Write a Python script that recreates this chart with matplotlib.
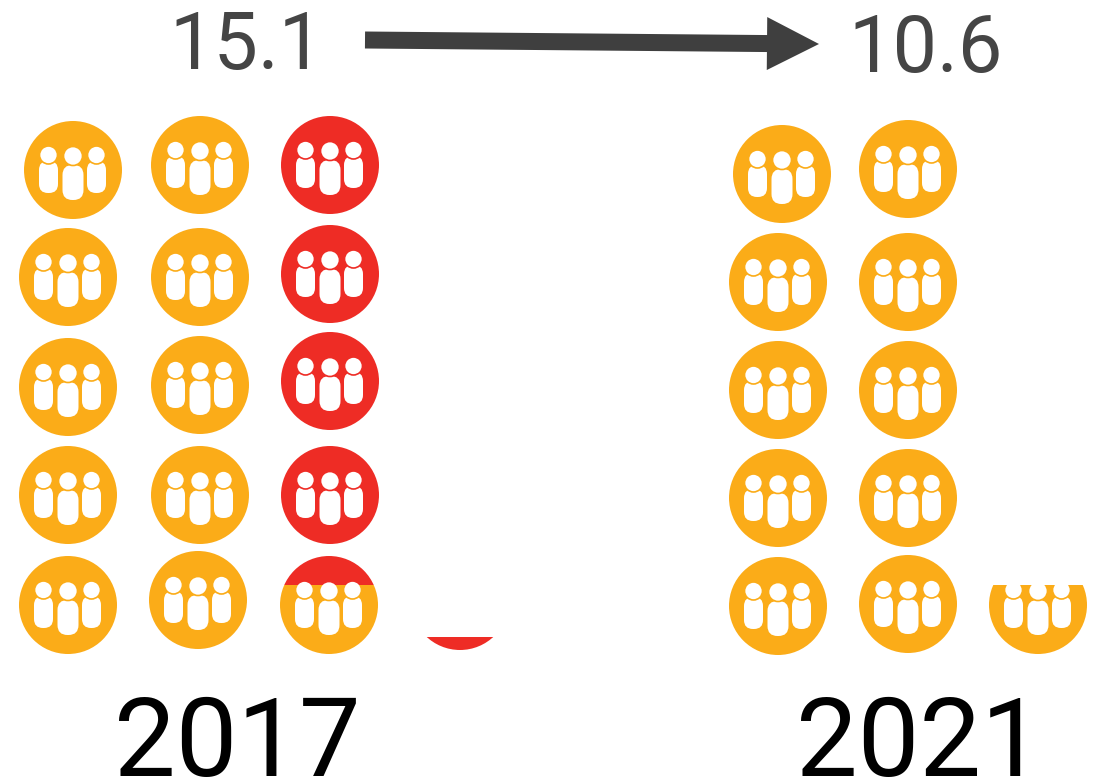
import matplotlib
matplotlib.use('Agg')
import matplotlib.pyplot as plt
from matplotlib.patches import Circle, FancyBboxPatch, FancyArrow, Rectangle

plt.rcParams['font.family'] = ['Roboto', 'DejaVu Sans']

YELLOW = '#fbac18'
RED = '#ee2c25'
DARK = '#454545'

# Values
years = ['2017', '2021']
rates = ['15.1', '10.6']

# icon centres, one list per column
cols_2017_x = [[73, 68, 68, 68, 68], [200, 200, 200, 200, 198], [330, 330, 330, 330, 329], [460]]
cols_2017_y = [[170, 277, 387, 495, 605], [165, 277, 385, 495, 600], [165, 274, 381, 495, 605], [601]]
# share of each icon that is yellow (from the bottom), the rest is red
yellow_2017 = [[1, 1, 1, 1, 1], [1, 1, 1, 1, 1], [0, 0, 0, 0, 0.7], [0]]
# share of each icon that is filled at all (from the bottom)
filled_2017 = [[1, 1, 1, 1, 1], [1, 1, 1, 1, 1], [1, 1, 1, 1, 1], [0.14]]

cols_2021_x = [[782, 778, 778, 778, 778], [908, 908, 908, 908, 908], [1038]]
cols_2021_y = [[174, 282, 390, 498, 606], [169, 282, 390, 498, 604], [605]]
yellow_2021 = [[1, 1, 1, 1, 1], [1, 1, 1, 1, 1], [1]]
filled_2021 = [[1, 1, 1, 1, 1], [1, 1, 1, 1, 1], [0.7]]

R = 49

fig = plt.figure(figsize=(10.94, 7.83), dpi=100)
ax = fig.add_axes([0, 0, 1, 1])
ax.set_xlim(0, 1094)
ax.set_ylim(783, 0)
ax.axis('off')


def draw_layer(x, y, color, top, bottom):
    # one coloured copy of the icon, clipped to a horizontal band
    clip = Rectangle((x - R - 2, top), 2 * R + 4, bottom - top, transform=ax.transData)
    parts = [Circle((x, y), R, fc=color, ec='none')]
    for dx, w, y0, y1 in [(-24.5, 19, -9, 23), (23.5, 19, -9, 23), (0, 21, -5, 30)]:
        r = w / 2 - 0.5
        parts.append(FancyBboxPatch((x + dx - w / 2 + r, y + y0 + r), w - 2 * r, y1 - y0 - 2 * r,
                                    boxstyle=f'round,pad={r},rounding_size={r}', fc='white', ec='none'))
    for dx, dy, rad in [(-24.5, -15, 9), (23.5, -15, 9), (0, -14, 9.5)]:
        parts.append(Circle((x + dx, y + dy), rad, fc='white', ec=color, lw=1.2))
    for p in parts:
        ax.add_patch(p)
        p.set_clip_path(clip)


def draw_icon(x, y, yellow, filled):
    bottom = y + R + 1
    full_top = y - R - 1
    top = bottom - (bottom - full_top) * filled
    if yellow >= 1:
        draw_layer(x, y, YELLOW, top, bottom)
    elif yellow <= 0:
        draw_layer(x, y, RED, top, bottom)
    else:
        cut = bottom - (bottom - full_top) * yellow
        draw_layer(x, y, RED, top, cut)
        draw_layer(x, y, YELLOW, cut, bottom)


for xs, ys, yel, fil in [(cols_2017_x, cols_2017_y, yellow_2017, filled_2017),
                         (cols_2021_x, cols_2021_y, yellow_2021, filled_2021)]:
    for cx, cy, cyel, cfil in zip(xs, ys, yel, fil):
        for x, y, a, b in zip(cx, cy, cyel, cfil):
            draw_icon(x, y, a, b)

# Arrow between the two rates
ax.add_patch(FancyArrow(365, 40, 454, 4, width=17, head_width=53, head_length=52,
                        length_includes_head=True, fc='#3f3f3f', ec='none'))

ax.text(247, 69, rates[0], fontsize=57, color=DARK, ha='center', va='baseline')
ax.text(926, 72, rates[1], fontsize=57, color=DARK, ha='center', va='baseline')
ax.text(237.5, 776, years[0], fontsize=79, color='black', ha='center', va='baseline')
ax.text(919, 776, years[1], fontsize=79, color='black', ha='center', va='baseline')

fig.savefig('out.png', dpi=100)
